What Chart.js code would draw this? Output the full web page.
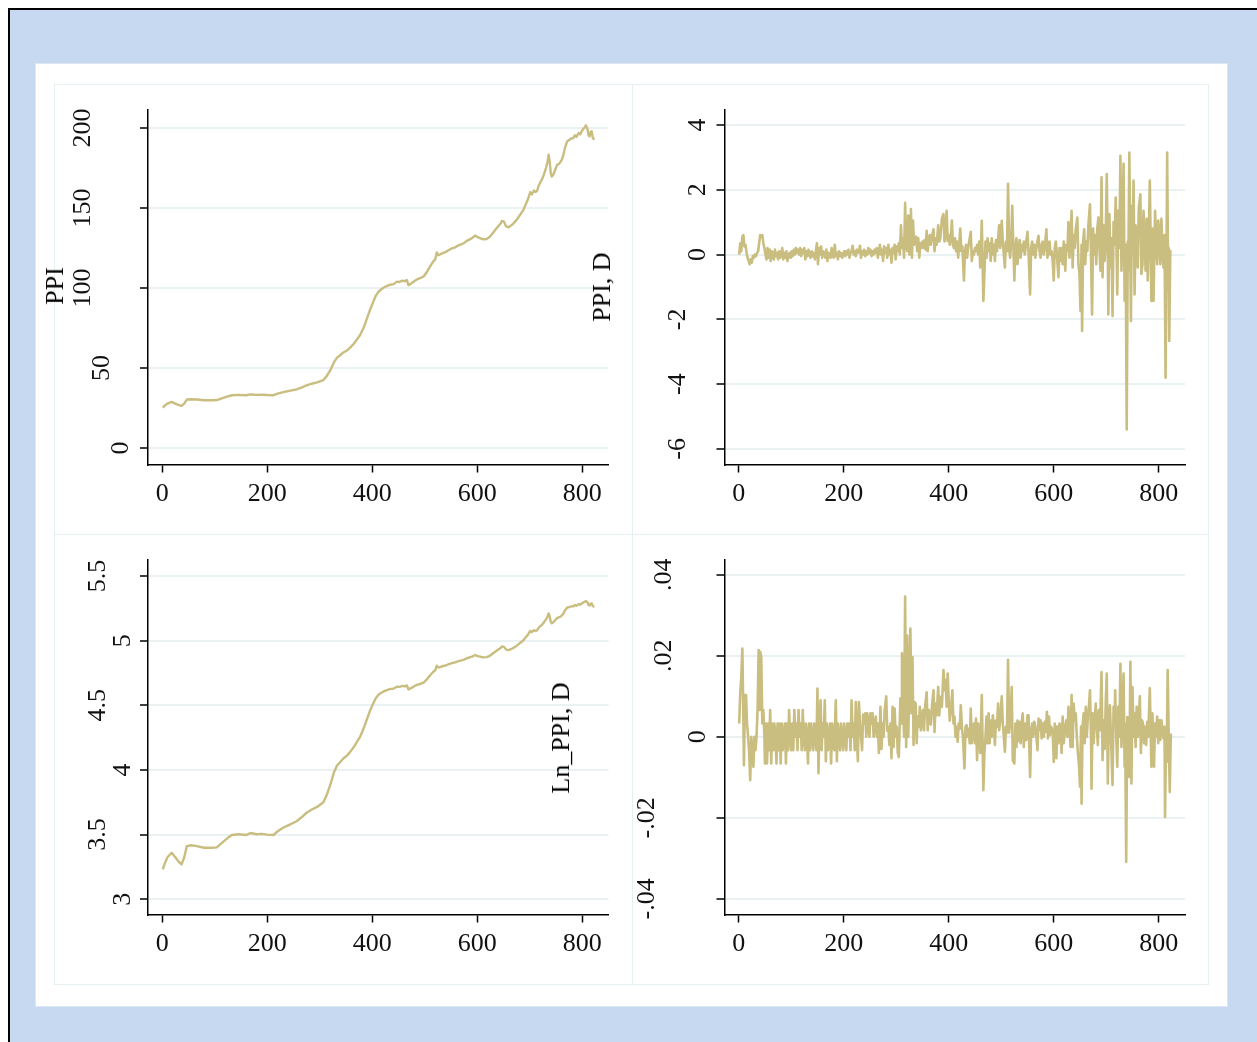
<!DOCTYPE html>
<html>
<head>
<meta charset="utf-8">
<script src="https://cdn.jsdelivr.net/npm/chart.js@4.4.1/dist/chart.umd.min.js"></script>
<style>
  html, body { margin: 0; padding: 0; background: #fff; overflow: hidden; }
  #page { position: relative; width: 1257px; height: 1042px; }
  #frame { position: absolute; left: 8px; top: 8px; width: 1260px; height: 1040px;
           border-left: 2px solid #000; border-top: 2px solid #000; background: #c6d9f0; }
  #inner { position: absolute; left: 35px; top: 63px; width: 1191px; height: 942px;
           background: #fff; border: 1px solid #dce8f1; }
  .panel { position: absolute; border: 1.5px solid #e6eff2; box-sizing: border-box; }
  canvas { position: absolute; }
  .ytitle { position: absolute; font: 26px "Liberation Serif", "Times New Roman", serif; color: #000;
            white-space: nowrap; line-height: 26px; transform: translate(-50%, -50%) rotate(-90deg); }
</style>
</head>
<body>
<div id="page">
  <div id="frame"></div>
  <div id="inner"></div>
  <div class="panel" style="left:54px;top:84px;width:579px;height:451px"></div>
  <div class="panel" style="left:632px;top:84px;width:577px;height:451px"></div>
  <div class="panel" style="left:54px;top:534px;width:579px;height:451px"></div>
  <div class="panel" style="left:632px;top:534px;width:577px;height:451px"></div>
  <canvas id="c1" width="578" height="450" style="left:54px;top:84px"></canvas>
  <canvas id="c2" width="576" height="450" style="left:632px;top:84px"></canvas>
  <canvas id="c3" width="578" height="450" style="left:54px;top:534px"></canvas>
  <canvas id="c4" width="576" height="450" style="left:632px;top:534px"></canvas>
  <div class="ytitle" style="left:55px;top:286px">PPI</div>
  <div class="ytitle" style="left:602px;top:287px">PPI, D</div>
  <div class="ytitle" style="left:561px;top:738px">Ln_PPI, D</div>
</div>
<script>
// tick values / labels
var xTicks = [0, 200, 400, 600, 800];
var xTickLabels = ['0', '200', '400', '600', '800'];
var ppiTicks = [0, 50, 100, 150, 200];
var ppiTickLabels = ['0', '50', '100', '150', '200'];
var dppiTicks = [-6, -4, -2, 0, 2, 4];
var dppiTickLabels = ['-6', '-4', '-2', '0', '2', '4'];
var lnTicks = [3, 3.5, 4, 4.5, 5, 5.5];
var lnTickLabels = ['3', '3.5', '4', '4.5', '5', '5.5'];
var dlnTicks = [-0.04, -0.02, 0, 0.02, 0.04];
var dlnTickLabels = ['-.04', '-.02', '0', '.02', '.04'];

// PPI level (observation number, value)
var ppiObs = [1,5,10,18,25,32,37,42,47,55,66,80,95,104,115,125,133,145,160,168,180,190,200,212,220,231,240,256,265,275,285,295,307,313,320,327,333,340,345,352,358,365,372,377,384,390,396,402,407,412,418,423,428,435,440,447,452,458,462,466,469,474,480,485,490,498,504,510,516,520,523,526,529,535,540,546,552,558,563,568,574,580,585,590,596,601,606,612,618,624,631,636,641,645,647,651,655,660,664,668,672,676,680,684,688,692,696,699,701,704,708,711,714,717,720,723,727,731,734,736,738,740,742,745,748,752,755,758,761,764,767,771,775,779,783,786,789,793,796,799,802,805,807,810,812,814,816,818,820,823];
var ppiVal = [25.3,26.5,27.8,28.8,27.8,26.8,26.3,27.8,30.3,30.5,30.3,29.9,29.9,30.0,31.2,32.3,33.0,33.2,33.0,33.5,33.2,33.3,33.1,33.0,34.0,35.0,35.6,36.7,37.8,39.2,40.2,41.0,42.5,44.8,48.5,53.5,56.5,58.3,59.7,61.0,62.8,65.2,68.4,70.6,75.5,81,86.5,91.4,95.3,97.7,99.4,100.5,101.3,102.2,102.3,104,103.8,104.6,104.2,105.0,101.8,102.8,104.3,105.4,106.0,107.2,110,113.4,116.5,118,122.3,120.5,121,122,122.5,123.8,124.8,125.5,126.5,127.2,128,129.5,130.3,131.2,132.8,131.8,131.1,130.5,130.7,132,134.9,137,139,140.5,142,141.5,138.5,138,139,140,141.5,143,145,147,148.9,152,155,158,160,158.5,161,160,160.8,164,166,167.6,171,175,179,183.3,179,172,169.7,171,173.5,177,177.5,178.5,180.2,183,187.5,191.6,192.5,193.5,193.7,195.5,194.5,196.9,196,198,199.5,200.5,201.7,199.5,195.5,194.8,197.5,198,194,192.7];

// Ln_PPI level, same observation points
var lnVal = [3.231,3.277,3.325,3.360,3.325,3.288,3.270,3.325,3.411,3.418,3.411,3.398,3.398,3.401,3.440,3.475,3.497,3.503,3.497,3.512,3.503,3.506,3.500,3.497,3.526,3.555,3.572,3.603,3.632,3.669,3.694,3.714,3.750,3.802,3.882,3.980,4.034,4.066,4.089,4.111,4.140,4.177,4.225,4.257,4.324,4.394,4.460,4.515,4.557,4.582,4.599,4.610,4.618,4.627,4.628,4.644,4.643,4.650,4.646,4.654,4.623,4.633,4.647,4.658,4.663,4.675,4.700,4.731,4.758,4.771,4.806,4.792,4.796,4.804,4.808,4.819,4.827,4.832,4.840,4.846,4.852,4.864,4.870,4.877,4.889,4.881,4.876,4.871,4.873,4.883,4.905,4.920,4.934,4.945,4.956,4.952,4.931,4.927,4.934,4.942,4.952,4.963,4.977,4.990,5.003,5.024,5.043,5.063,5.075,5.066,5.081,5.075,5.080,5.100,5.112,5.121,5.142,5.165,5.187,5.211,5.187,5.147,5.134,5.142,5.156,5.176,5.179,5.185,5.194,5.209,5.234,5.255,5.260,5.265,5.266,5.276,5.270,5.283,5.278,5.288,5.296,5.301,5.307,5.296,5.276,5.272,5.286,5.288,5.268,5.261];

// PPI, D (first difference)
var dppiObs = [1,3,5,7,9,11,13,15,17,19,21,23,25,27,29,31,33,35,37,39,41,43,45,47,49,51,53,55,57,59,61,63,65,67,69,71,73,75,77,79,81,83,85,87,89,91,93,95,97,99,101,103,105,107,109,111,113,115,117,119,121,123,125,127,129,131,133,135,137,139,141,143,145,147,149,151,153,155,157,159,161,163,165,167,169,171,173,175,177,179,181,183,185,187,189,191,193,195,197,199,
  201,203,205,207,209,211,213,215,217,219,221,223,225,227,229,231,233,235,237,239,241,243,245,247,249,251,253,255,257,259,261,263,265,267,269,271,273,275,277,279,281,283,285,287,289,291,293,295,297,299,301,303,305,307,309,311,313,315,317,319,321,323,325,327,328,330,332,334,336,338,340,342,344,346,348,350,352,354,356,358,360,362,364,366,368,371,373,375,377,380,382,384,387,390,392,394,396,398,400,402,404,406,
  408,410,412,414,416,418,420,422,424,426,429,431,433,435,437,439,442,444,446,448,450,452,454,456,458,460,463,466,468,470,472,474,476,478,480,482,484,486,488,490,492,494,496,498,501,503,505,507,509,511,513,515,517,519,521,523,525,527,529,531,533,535,537,539,541,543,545,547,550,552,555,557,559,561,563,565,567,569,571,573,575,577,579,581,583,586,588,590,592,594,596,598,600,602,604,606,609,611,613,
  615,617,619,622,624,626,628,630,632,634,636,638,640,642,645,647,649,651,653,654,656,658,660,662,664,666,669,671,673,675,677,679,681,683,685,687,689,691,693,695,697,699,701,703,704,706,708,710,712,714,716,718,720,721,723,725,727,729,731,733,735,737,739,741,742,744,746,747,749,750,752,754,756,758,760,762,765,767,769,771,773,775,777,779,781,783,786,788,790,793,795,797,799,801,803,805,807,809,811,813,815,816,818,819,820,822];
var dppiVal = [0.0,0.35,0.1,0.55,0.6,0.25,0.3,0.05,-0.1,-0.2,-0.3,-0.15,-0.25,-0.05,-0.1,0.0,-0.05,0.05,0.1,0.35,0.6,0.55,0.6,0.35,0.2,0.0,-0.15,0.2,-0.1,0.15,-0.2,0.1,0.0,-0.15,0.15,-0.05,0.05,-0.15,0.1,-0.1,0.0,0.2,-0.15,0.05,-0.1,0.1,-0.2,0.0,0.05,-0.1,0.1,-0.05,0.15,0.0,0.2,0.05,0.15,0.0,0.2,-0.05,0.15,0.05,0.2,-0.15,0.1,-0.05,0.15,0.0,-0.1,0.1,-0.05,0.05,-0.15,0.1,0.35,-0.3,0.2,0.0,0.25,-0.1,0.1,0.05,-0.1,0.15,-0.2,0.05,0.0,-0.1,0.2,0.0,-0.1,0.3,-0.05,0.05,-0.15,0.1,-0.05,0.05,-0.1,0.0,
  0.1,-0.05,0.1,0.0,0.15,-0.1,0.05,0.1,0.27,0.0,0.1,-0.05,0.15,0.05,0.1,0.27,-0.1,0.1,0.0,0.15,-0.05,0.1,0.0,0.2,0.05,0.15,-0.05,0.1,0.0,0.15,0.05,0.2,-0.1,0.1,0.3,0.0,0.15,-0.2,0.25,0.05,0.2,-0.1,0.3,0.0,0.15,-0.25,0.2,0.05,0.3,-0.15,0.25,0.1,0.35,0.0,0.9,0.2,0.5,-0.1,1.6,0.3,0.1,1.2,0.0,0.4,1.4,-0.1,1.05,0.3,0.5,0.55,0.1,0.5,-0.1,0.35,0.2,0.4,0.2,0.45,0.15,0.73,0.1,0.5,0.6,0.3,0.55,0.78,0.1,0.5,0.3,0.9,0.4,0.5,1.1,1.25,0.4,0.6,1.35,0.42,0.6,0.3,0.5,1.05,
  0.3,0.2,0.5,0.1,0.4,-0.1,0.3,0.8,0.1,0.25,-0.8,0.1,0.3,-0.1,0.2,0.4,0.7,-0.2,0.1,0.0,0.2,0.1,0.3,0.0,0.4,-0.4,1.04,-1.43,-0.6,0.4,-0.1,0.5,0.1,0.35,-0.2,0.5,0.0,0.3,-0.2,0.45,0.1,0.5,0.9,0.2,1.04,0.4,0.0,-0.4,0.4,0.1,2.18,0.2,-0.1,0.4,1.5,0.3,-0.8,0.2,0.5,-0.3,0.1,0.45,-0.1,0.3,0.1,0.4,0.0,0.3,0.7,0.1,-1.23,0.2,0.4,0.0,0.3,-0.1,0.2,0.4,0.58,0.1,-0.1,0.3,0.4,0.0,0.2,0.78,-0.1,0.1,0.4,0.0,0.1,-0.2,-0.8,0.2,0.4,0.0,-0.7,0.2,-0.2,
  0.2,-0.3,0.4,-0.5,0.3,0.1,1.0,-0.1,0.5,1.35,-0.4,0.6,0.2,0.8,1.14,-0.3,-0.6,-1.74,0.3,-2.36,0.4,0.78,-0.3,0.4,0.1,0.9,1.55,0.0,-1.85,0.8,0.0,0.6,-0.3,0.8,1.14,0.2,-0.5,2.38,-0.7,0.9,-0.2,0.5,2.48,0.0,-1.85,1.25,-0.4,0.5,-1.9,1.0,0.3,1.76,-0.2,-1.23,1.35,0.2,3.05,-0.5,0.9,2.8,-1.43,0.3,-5.4,0.4,-0.5,3.15,-0.2,-2.05,1.5,0.2,2.28,-1.23,0.9,0.3,-0.4,1.45,1.86,-0.6,-0.3,1.35,0.4,-0.5,1.1,-0.8,0.5,2.28,-1.43,0.8,-1.43,1.35,0.4,-0.3,1.05,0.6,-0.3,1.1,0.1,-0.4,0.6,-3.8,0.2,3.15,-1.1,0.2,-2.67,0.15];

// Ln_PPI, D (first difference of logs)
var dlnObs = [1,3,5,7,9,10,12,14,16,18,20,22,24,26,28,30,32,34,36,38,40,41,43,45,47,49,50,52,54,56,58,60,62,64,66,68,70,72,74,76,78,80,82,84,86,88,90,92,94,96,98,100,102,104,106,108,110,112,114,116,118,120,122,124,126,128,130,132,134,136,138,140,142,144,146,148,150,152,154,156,158,160,162,164,166,168,170,172,174,176,178,180,182,185,187,189,191,193,195,197,199,
  201,203,205,207,209,211,213,215,217,219,221,223,225,227,229,231,233,235,237,239,241,243,245,247,249,251,253,255,257,259,261,263,265,267,270,272,274,276,278,281,283,285,287,289,291,293,295,297,299,301,303,305,308,310,311,313,315,317,319,321,323,325,327,329,331,333,335,337,339,341,343,345,347,349,351,353,355,358,360,362,364,366,368,371,373,375,377,380,382,384,387,390,392,394,396,398,400,402,404,407,409,
  411,413,415,417,419,421,423,425,427,430,432,434,436,438,440,442,444,446,448,450,452,454,456,458,460,463,466,468,470,472,474,476,478,480,482,484,486,488,490,492,494,496,498,501,503,505,507,509,511,513,515,517,520,522,525,527,529,531,533,535,537,539,541,543,545,548,550,552,555,557,559,561,563,565,567,569,571,573,575,577,579,581,583,585,587,589,591,593,595,598,600,602,605,607,609,611,
  613,615,617,619,622,624,626,628,630,632,634,636,638,640,642,644,646,648,650,652,653,655,657,659,661,663,665,667,669,671,672,674,676,678,680,682,684,686,688,691,693,695,697,699,701,703,705,707,709,712,714,716,717,719,721,723,725,727,729,731,733,735,736,738,740,742,744,746,748,750,752,754,756,758,760,762,764,766,768,770,772,774,776,778,780,783,786,788,791,793,795,797,799,801,803,805,807,809,811,812,814,815,817,819,821,823];
var dlnVal = [0.0033,0.011,0.0148,0.0218,0.004,-0.007,0.0103,0.0103,0.003,0.0,-0.004,-0.0107,0.0,-0.003,-0.0074,0.0,-0.0033,0.0,0.0066,0.0214,0.0066,0.021,0.0197,0.0033,0.0066,0.0,-0.0066,0.0033,-0.0066,0.0033,-0.0033,0.0066,-0.0066,0.0033,-0.0033,0.0033,0.0,-0.0066,0.0033,-0.0033,0.0033,-0.0066,0.0033,-0.0033,0.0,0.0033,-0.0066,0.0033,-0.0033,0.0066,0.0,-0.0033,0.0033,-0.0033,0.0066,0.0,0.0033,-0.0033,0.0066,0.0,0.0033,-0.0033,0.0066,0.0,-0.0033,0.0033,0.0,-0.0066,0.0033,-0.0033,0.0033,0.0,-0.0033,0.0033,0.0,-0.0033,0.0119,-0.009,0.0033,0.009,-0.0033,0.0033,0.0,0.009,-0.006,0.0033,-0.0033,0.0,0.0033,-0.0066,0.0033,0.0,-0.0033,0.009,-0.006,0.0033,0.0,-0.0033,0.0033,0.0,-0.0033,
  0.0033,0.0,-0.0033,0.0033,0.0,0.0033,-0.0033,0.009,0.0,0.0033,-0.0033,0.0086,0.0,-0.006,0.0086,0.0033,0.0,-0.0033,0.0055,0.0033,0.0058,0.0,0.0058,0.0033,0.0,0.0058,0.0033,0.0058,0.0,0.0025,0.005,0.0,0.0033,-0.004,0.0074,-0.003,0.0033,0.0,0.0066,0.01,0.0015,0.0025,-0.002,0.0033,-0.0053,0.0074,-0.0025,0.007,0.0,0.0025,-0.004,-0.005,0.0095,0.0033,0.0206,0.0078,0.0,0.0346,-0.0025,0.025,0.0,0.0128,0.0267,0.0058,0.0197,-0.002,0.0086,0.0082,-0.0016,0.005,0.0025,0.0074,0.0016,0.004,0.0066,0.0016,0.0074,0.011,0.0016,0.0066,0.0049,0.003,0.0074,0.0115,0.0012,0.0082,0.0053,0.0123,0.0053,0.0099,0.0074,0.0165,0.0115,0.014,0.0074,0.0156,0.0091,0.004,0.0066,0.0115,0.0033,
  0.005,0.0,0.0025,-0.0012,0.0033,0.002,0.0078,0.0025,0.0,-0.0078,0.0025,0.0029,0.0,0.002,-0.0016,0.007,-0.0016,0.0008,0.0033,-0.0016,0.0045,-0.0058,0.0033,0.0008,-0.004,0.0103,-0.0132,-0.004,0.0,0.005,-0.0016,0.0058,-0.0016,0.004,0.0,0.0053,0.0025,-0.002,0.004,0.0025,0.0082,0.0016,0.004,0.01,0.0033,0.0,-0.0037,0.0025,0.001,0.019,0.001,0.0033,0.0123,-0.0058,-0.0066,0.0033,-0.0025,0.004,-0.001,0.0037,-0.0016,0.0037,0.0058,-0.0025,0.0033,-0.0008,0.0053,0.0053,-0.0099,0.0016,0.0033,0.0,0.0037,0.0025,0.0,-0.0033,0.0045,0.0016,0.0041,-0.0004,0.0033,0.0,0.0037,0.0012,0.0062,-0.0004,0.005,0.0004,0.0025,0.0016,-0.0062,0.0033,-0.0053,0.0025,-0.0016,0.0033,
  0.0025,-0.004,0.005,-0.0016,0.0025,0.0041,0.0,0.0074,0.0025,-0.0025,0.0103,-0.0025,0.0082,0.0041,0.0058,0.0,-0.004,-0.0066,-0.0123,0.0025,-0.0165,0.0025,0.0058,-0.0016,0.0074,0.0,0.0049,0.0074,0.0115,0.0,-0.0128,0.0058,-0.0016,0.0041,0.0082,0.0025,-0.002,0.0066,0.0016,0.016,-0.0058,0.0041,-0.003,0.0082,0.0156,-0.0115,0.0041,0.0078,0.0,-0.0119,0.0074,0.0033,0.0115,0.0,-0.0074,0.0074,0.0,0.018,-0.0025,0.0066,0.0156,-0.0074,0.0033,-0.0309,0.0049,0.0016,-0.0099,0.0185,-0.0115,0.0123,0.0,0.0058,-0.0025,0.0074,0.0,0.0037,0.01,-0.004,0.0041,0.0033,-0.0016,0.0025,-0.002,0.0037,0.0,0.012,-0.0074,0.0058,-0.0074,0.0033,0.0,0.005,-0.0016,0.0041,-0.0008,0.0041,0.0016,-0.0004,0.0025,-0.0198,0.0008,-0.0062,0.0165,0.0,-0.0136,0.0008];

var lineColor = 'rgb(201,189,128)';
var serif = '"Liberation Serif", "Times New Roman", serif';

// y tick labels are drawn rotated, pushed left by label length like the original
const rotYLabels = {
  id: 'rotYLabels',
  afterDraw(chart, args, opts) {
    const s = chart.scales.y;
    const ctx = chart.ctx;
    ctx.save();
    ctx.font = '26px ' + serif;
    ctx.fillStyle = '#111';
    ctx.textAlign = 'center';
    ctx.textBaseline = 'alphabetic';
    opts.values.forEach(function (v, i) {
      const lab = opts.labels[i];
      const y = s.getPixelForValue(v);
      const x = chart.chartArea.left - opts.gap - opts.step * (lab.length - 1);
      ctx.save();
      ctx.translate(x, y);
      ctx.rotate(-Math.PI / 2);
      ctx.fillText(lab, 0, 0);
      ctx.restore();
    });
    ctx.restore();
  }
};

function makeChart(id, obs, vals, yMin, yMax, yTicks, yLabels, yAxisWidth, rightPad, gap, step, lw) {
  const pts = obs.map(function (x, i) { return { x: x, y: vals[i] }; });
  return new Chart(document.getElementById(id), {
    type: 'line',
    data: {
      datasets: [{
        data: pts,
        borderColor: lineColor,
        borderWidth: lw,
        borderJoinStyle: 'round',
        pointRadius: 0,
        tension: 0,
        fill: false
      }]
    },
    plugins: [rotYLabels],
    options: {
      responsive: false,
      devicePixelRatio: 1,
      animation: false,
      events: [],
      layout: { padding: { top: 26, right: rightPad, left: 0, bottom: 0 } },
      plugins: {
        legend: { display: false },
        tooltip: { enabled: false },
        rotYLabels: { values: yTicks, labels: yLabels, gap: gap, step: step }
      },
      scales: {
        x: {
          type: 'linear',
          min: -27,
          max: 850,
          afterBuildTicks: function (s) { s.ticks = xTicks.map(function (v) { return { value: v }; }); },
          afterFit: function (s) { s.height = 69.5; },
          border: { display: true, color: '#000', width: 1.5 },
          grid: { drawOnChartArea: false, drawTicks: true, tickLength: 8, tickColor: '#000', tickWidth: 1.5 },
          ticks: {
            color: '#111',
            font: { family: serif, size: 26 },
            padding: 6,
            maxRotation: 0,
            autoSkip: false,
            callback: function (v) { return xTickLabels[xTicks.indexOf(v)]; }
          }
        },
        y: {
          type: 'linear',
          min: yMin,
          max: yMax,
          afterBuildTicks: function (s) { s.ticks = yTicks.map(function (v) { return { value: v }; }); },
          afterFit: function (s) { s.width = yAxisWidth; },
          border: { display: true, color: '#000', width: 1.5 },
          grid: { color: '#e9f1f3', lineWidth: 2, drawTicks: true, tickLength: 8, tickColor: '#000', tickWidth: 1.5 },
          ticks: { display: false }
        }
      }
    }
  });
}

makeChart('c1', ppiObs, ppiVal, -10.3, 211.3, ppiTicks, ppiTickLabels, 94, 23.5, 20, 19, 2.4);
makeChart('c2', dppiObs, dppiVal, -6.48, 4.46, dppiTicks, dppiTickLabels, 92.5, 23, 19.5, 20, 2.6);
makeChart('c3', ppiObs, lnVal, 2.882, 5.624, lnTicks, lnTickLabels, 94, 23.5, 18, 12.5, 2.4);
makeChart('c4', dlnObs, dlnVal, -0.04385, 0.04363, dlnTicks, dlnTickLabels, 92.5, 23, 19.5, 17, 2.6);
</script>
</body>
</html>
